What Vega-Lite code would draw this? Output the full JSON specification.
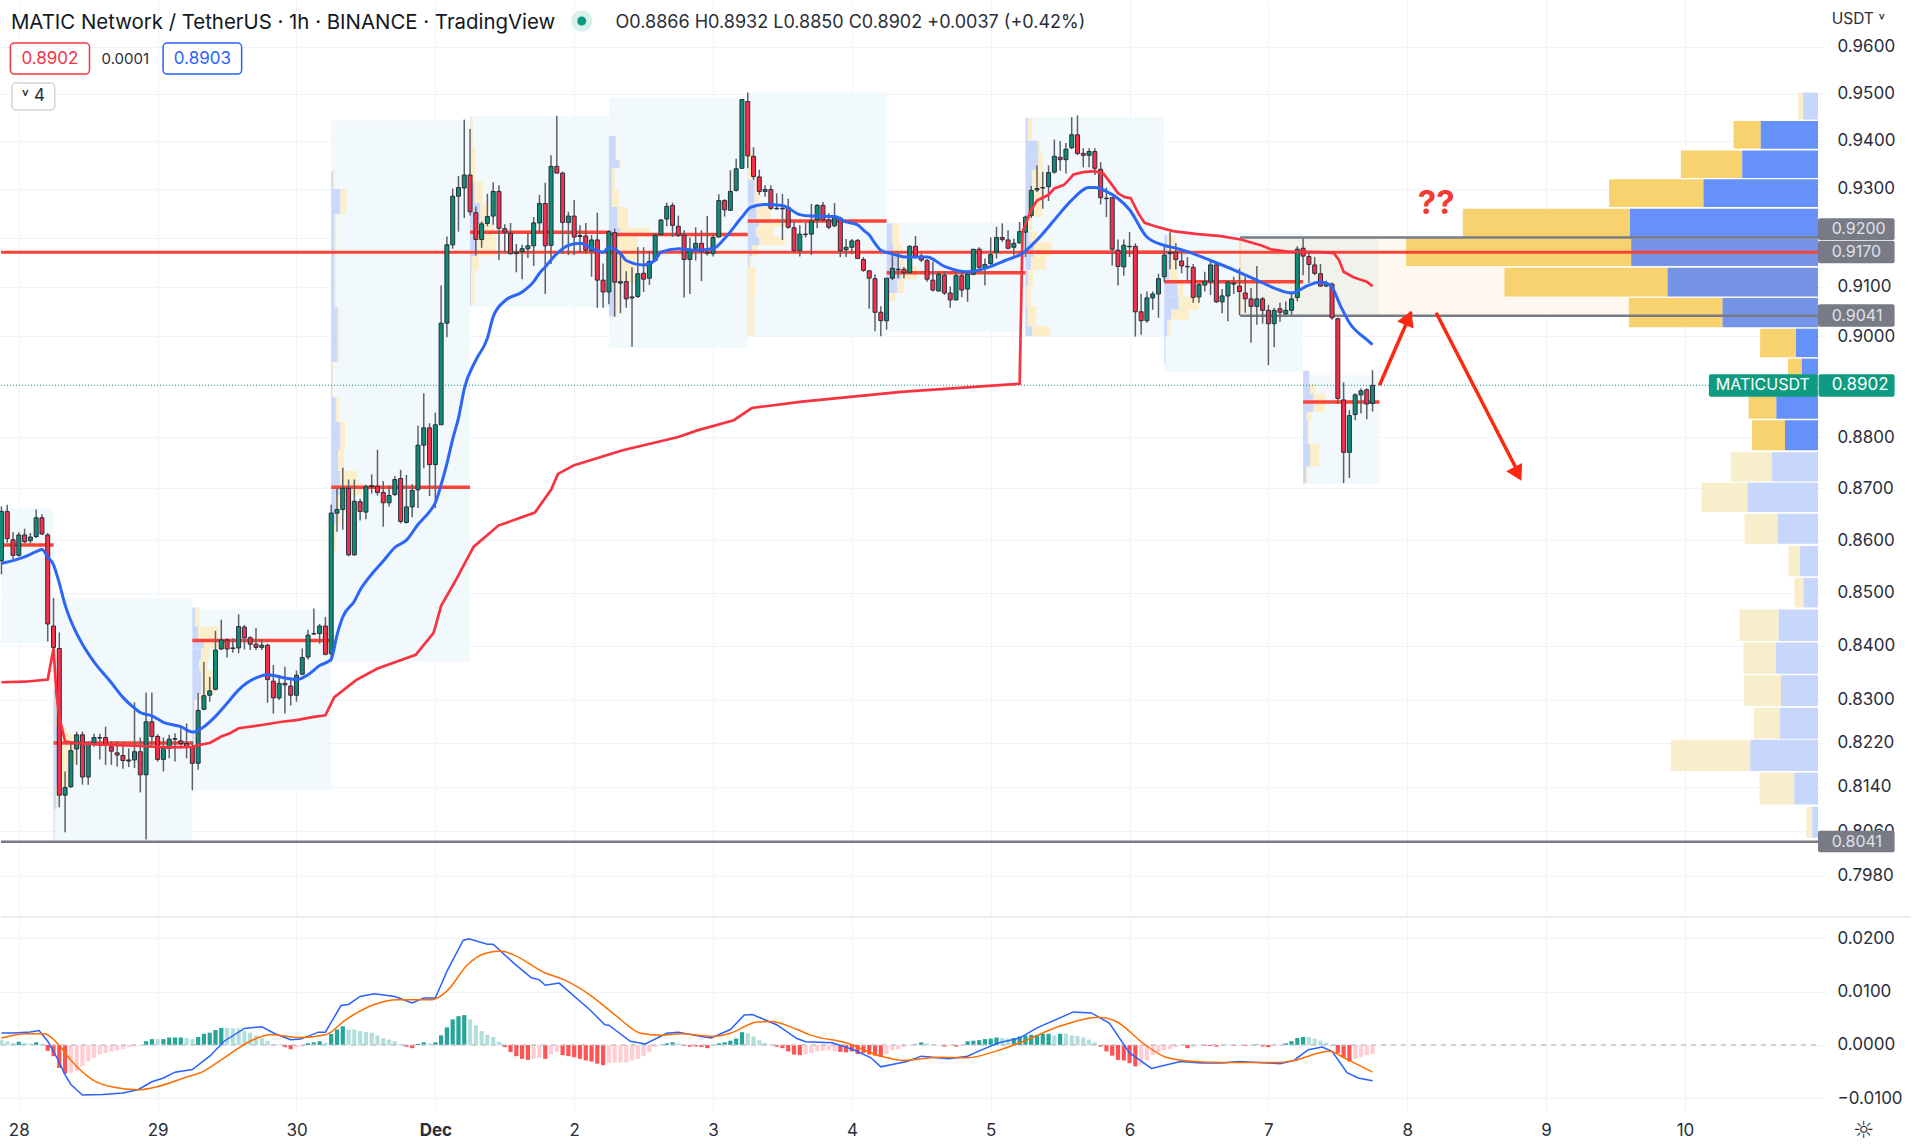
{"$schema":"https://vega.github.io/schema/vega-lite/v6.json","padding":{"left":-4,"top":0,"right":0,"bottom":0},"background":"white","autosize":{"type":"pad"},"spacing":2,
"resolve":{"scale":{"color":"independent","fill":"independent"}},
"config":{"view":{"stroke":null},"text":{"font":"Inter"},"axis":{"labelFont":"Inter","labelFontSize":17,"labelColor":"#2a2e39","gridColor":"#f0f3fa","gridWidth":1,"domain":false,"ticks":false,"labelOverlap":false,"labelBound":false,"labelFlush":false}},
"datasets":{
"candles":[{"t":-3,"o":0.8561,"h":0.8665,"l":0.8535,"c":0.8655},{"t":-2,"o":0.8655,"h":0.8668,"l":0.8595,"c":0.8603},{"t":-1,"o":0.8601,"h":0.8615,"l":0.8564,"c":0.8571},{"t":0,"o":0.8571,"h":0.8615,"l":0.8569,"c":0.861},{"t":1,"o":0.861,"h":0.8622,"l":0.8594,"c":0.8597},{"t":2,"o":0.8599,"h":0.8614,"l":0.8594,"c":0.8606},{"t":3,"o":0.8607,"h":0.8659,"l":0.8604,"c":0.8643},{"t":4,"o":0.8643,"h":0.865,"l":0.861,"c":0.8612},{"t":5,"o":0.861,"h":0.8614,"l":0.8408,"c":0.8441},{"t":6,"o":0.8437,"h":0.849,"l":0.8392,"c":0.8397},{"t":7,"o":0.8395,"h":0.8425,"l":0.8103,"c":0.8125},{"t":8,"o":0.8125,"h":0.8168,"l":0.8058,"c":0.8139},{"t":9,"o":0.814,"h":0.8223,"l":0.8139,"c":0.8206},{"t":10,"o":0.8209,"h":0.8241,"l":0.818,"c":0.8235},{"t":11,"o":0.8235,"h":0.8241,"l":0.8144,"c":0.8158},{"t":12,"o":0.8158,"h":0.8223,"l":0.8144,"c":0.8218},{"t":13,"o":0.822,"h":0.8237,"l":0.8213,"c":0.823},{"t":14,"o":0.8229,"h":0.8237,"l":0.819,"c":0.823},{"t":15,"o":0.823,"h":0.825,"l":0.818,"c":0.8218},{"t":16,"o":0.8213,"h":0.8223,"l":0.818,"c":0.8205},{"t":17,"o":0.8202,"h":0.8223,"l":0.8177,"c":0.8198},{"t":18,"o":0.8197,"h":0.8221,"l":0.8173,"c":0.8188},{"t":19,"o":0.8187,"h":0.821,"l":0.8176,"c":0.8189},{"t":20,"o":0.8189,"h":0.8295,"l":0.8174,"c":0.8204},{"t":21,"o":0.8204,"h":0.823,"l":0.813,"c":0.8162},{"t":22,"o":0.8162,"h":0.8313,"l":0.8045,"c":0.8259},{"t":23,"o":0.8259,"h":0.8313,"l":0.8216,"c":0.8232},{"t":24,"o":0.8232,"h":0.8236,"l":0.8186,"c":0.819},{"t":25,"o":0.819,"h":0.823,"l":0.8168,"c":0.821},{"t":26,"o":0.821,"h":0.8235,"l":0.8192,"c":0.8227},{"t":27,"o":0.8227,"h":0.8238,"l":0.8186,"c":0.8228},{"t":28,"o":0.8224,"h":0.8247,"l":0.821,"c":0.8219},{"t":29,"o":0.8219,"h":0.8256,"l":0.8192,"c":0.8213},{"t":30,"o":0.8212,"h":0.8223,"l":0.8134,"c":0.8183},{"t":31,"o":0.8183,"h":0.8312,"l":0.8171,"c":0.828},{"t":32,"o":0.8282,"h":0.837,"l":0.828,"c":0.8307},{"t":33,"o":0.8308,"h":0.8342,"l":0.8296,"c":0.8316},{"t":34,"o":0.8319,"h":0.8428,"l":0.8317,"c":0.8392},{"t":35,"o":0.8394,"h":0.8449,"l":0.8392,"c":0.8411},{"t":36,"o":0.8411,"h":0.8414,"l":0.8378,"c":0.8394},{"t":37,"o":0.8395,"h":0.8414,"l":0.8387,"c":0.8396},{"t":38,"o":0.8396,"h":0.8459,"l":0.8386,"c":0.8436},{"t":39,"o":0.8435,"h":0.8439,"l":0.8393,"c":0.8415},{"t":40,"o":0.8415,"h":0.8418,"l":0.8392,"c":0.8403},{"t":41,"o":0.8403,"h":0.8433,"l":0.8392,"c":0.8397},{"t":42,"o":0.8397,"h":0.8412,"l":0.8392,"c":0.8401},{"t":43,"o":0.8401,"h":0.8404,"l":0.8294,"c":0.8337},{"t":44,"o":0.8334,"h":0.8364,"l":0.8274,"c":0.8303},{"t":45,"o":0.8303,"h":0.8345,"l":0.8299,"c":0.833},{"t":46,"o":0.833,"h":0.8361,"l":0.8274,"c":0.8327},{"t":47,"o":0.8325,"h":0.8336,"l":0.8289,"c":0.8308},{"t":48,"o":0.8308,"h":0.8354,"l":0.8296,"c":0.8345},{"t":49,"o":0.8347,"h":0.8395,"l":0.8345,"c":0.8378},{"t":50,"o":0.8379,"h":0.843,"l":0.8374,"c":0.842},{"t":51,"o":0.8422,"h":0.847,"l":0.842,"c":0.8423},{"t":52,"o":0.8423,"h":0.8441,"l":0.8404,"c":0.8437},{"t":53,"o":0.8437,"h":0.8454,"l":0.8382,"c":0.8384},{"t":54,"o":0.8385,"h":0.8668,"l":0.837,"c":0.8652},{"t":55,"o":0.8652,"h":0.87,"l":0.8616,"c":0.8659},{"t":56,"o":0.8659,"h":0.874,"l":0.862,"c":0.87},{"t":57,"o":0.87,"h":0.8717,"l":0.8569,"c":0.8572},{"t":58,"o":0.8572,"h":0.8717,"l":0.857,"c":0.8675},{"t":59,"o":0.8674,"h":0.868,"l":0.8638,"c":0.8655},{"t":60,"o":0.8654,"h":0.8707,"l":0.864,"c":0.8703},{"t":61,"o":0.8703,"h":0.8727,"l":0.869,"c":0.8705},{"t":62,"o":0.8704,"h":0.8775,"l":0.8686,"c":0.8692},{"t":63,"o":0.8692,"h":0.8714,"l":0.8626,"c":0.8672},{"t":64,"o":0.8672,"h":0.8705,"l":0.8665,"c":0.8686},{"t":65,"o":0.8688,"h":0.8724,"l":0.8685,"c":0.8717},{"t":66,"o":0.8719,"h":0.8736,"l":0.8632,"c":0.8636},{"t":67,"o":0.8634,"h":0.8726,"l":0.8632,"c":0.8664},{"t":68,"o":0.8664,"h":0.8708,"l":0.8644,"c":0.8696},{"t":69,"o":0.8697,"h":0.8822,"l":0.8662,"c":0.8784},{"t":70,"o":0.8784,"h":0.8886,"l":0.8739,"c":0.8818},{"t":71,"o":0.8818,"h":0.8827,"l":0.8685,"c":0.8746},{"t":72,"o":0.8746,"h":0.8848,"l":0.8662,"c":0.8824},{"t":73,"o":0.8824,"h":0.9102,"l":0.8824,"c":0.9026},{"t":74,"o":0.9026,"h":0.9202,"l":0.8998,"c":0.9185},{"t":75,"o":0.9185,"h":0.9301,"l":0.9177,"c":0.9285},{"t":76,"o":0.9285,"h":0.9327,"l":0.9212,"c":0.9303},{"t":77,"o":0.9302,"h":0.9445,"l":0.924,"c":0.9329},{"t":78,"o":0.9329,"h":0.9425,"l":0.9245,"c":0.9253},{"t":79,"o":0.9251,"h":0.9264,"l":0.9163,"c":0.9196},{"t":80,"o":0.9196,"h":0.9233,"l":0.9179,"c":0.9228},{"t":81,"o":0.9229,"h":0.929,"l":0.9223,"c":0.9243},{"t":82,"o":0.9244,"h":0.9314,"l":0.9226,"c":0.9295},{"t":83,"o":0.9295,"h":0.9308,"l":0.9154,"c":0.9219},{"t":84,"o":0.9218,"h":0.9227,"l":0.9169,"c":0.9211},{"t":85,"o":0.9209,"h":0.923,"l":0.9165,"c":0.9167},{"t":86,"o":0.9167,"h":0.9187,"l":0.9129,"c":0.917},{"t":87,"o":0.9171,"h":0.9185,"l":0.9115,"c":0.9177},{"t":88,"o":0.9177,"h":0.9209,"l":0.9158,"c":0.9183},{"t":89,"o":0.9183,"h":0.9242,"l":0.9142,"c":0.923},{"t":90,"o":0.923,"h":0.9288,"l":0.9209,"c":0.927},{"t":91,"o":0.927,"h":0.9313,"l":0.9085,"c":0.9183},{"t":92,"o":0.9184,"h":0.937,"l":0.9146,"c":0.9347},{"t":93,"o":0.9347,"h":0.9453,"l":0.9333,"c":0.9333},{"t":94,"o":0.9333,"h":0.9336,"l":0.9167,"c":0.9231},{"t":95,"o":0.9231,"h":0.9253,"l":0.9164,"c":0.9244},{"t":96,"o":0.9244,"h":0.9277,"l":0.9164,"c":0.9201},{"t":97,"o":0.9202,"h":0.9225,"l":0.9169,"c":0.9204},{"t":98,"o":0.9203,"h":0.923,"l":0.9167,"c":0.9174},{"t":99,"o":0.9173,"h":0.9205,"l":0.912,"c":0.9195},{"t":100,"o":0.9195,"h":0.9251,"l":0.9057,"c":0.9113},{"t":101,"o":0.9113,"h":0.9147,"l":0.9057,"c":0.9089},{"t":102,"o":0.9089,"h":0.9215,"l":0.9064,"c":0.9212},{"t":103,"o":0.921,"h":0.9218,"l":0.9039,"c":0.9109},{"t":104,"o":0.9107,"h":0.9169,"l":0.9046,"c":0.911},{"t":105,"o":0.911,"h":0.9131,"l":0.9057,"c":0.9075},{"t":106,"o":0.9079,"h":0.9139,"l":0.8979,"c":0.9077},{"t":107,"o":0.908,"h":0.918,"l":0.9077,"c":0.9126},{"t":108,"o":0.9127,"h":0.918,"l":0.9089,"c":0.9115},{"t":109,"o":0.9117,"h":0.9173,"l":0.9103,"c":0.9151},{"t":110,"o":0.9153,"h":0.9208,"l":0.9151,"c":0.9205},{"t":111,"o":0.9206,"h":0.9238,"l":0.9205,"c":0.9236},{"t":112,"o":0.9238,"h":0.9272,"l":0.9223,"c":0.9264},{"t":113,"o":0.9266,"h":0.9272,"l":0.9201,"c":0.9225},{"t":114,"o":0.9223,"h":0.9245,"l":0.9201,"c":0.9205},{"t":115,"o":0.9205,"h":0.9215,"l":0.9078,"c":0.9155},{"t":116,"o":0.9155,"h":0.92,"l":0.9085,"c":0.9175},{"t":117,"o":0.9178,"h":0.9221,"l":0.9153,"c":0.9188},{"t":118,"o":0.9188,"h":0.9215,"l":0.9111,"c":0.9171},{"t":119,"o":0.917,"h":0.9244,"l":0.9163,"c":0.9168},{"t":120,"o":0.9167,"h":0.9208,"l":0.9161,"c":0.92},{"t":121,"o":0.9201,"h":0.9289,"l":0.92,"c":0.9276},{"t":122,"o":0.9276,"h":0.9279,"l":0.9243,"c":0.9257},{"t":123,"o":0.9256,"h":0.9339,"l":0.9255,"c":0.9295},{"t":124,"o":0.9297,"h":0.9363,"l":0.9295,"c":0.9342},{"t":125,"o":0.9343,"h":0.9488,"l":0.9343,"c":0.9487},{"t":126,"o":0.9483,"h":0.9502,"l":0.9343,"c":0.9369},{"t":127,"o":0.9368,"h":0.9387,"l":0.9319,"c":0.9326},{"t":128,"o":0.9325,"h":0.934,"l":0.9288,"c":0.9295},{"t":129,"o":0.9295,"h":0.9308,"l":0.9284,"c":0.9299},{"t":130,"o":0.9299,"h":0.9308,"l":0.9257,"c":0.926},{"t":131,"o":0.926,"h":0.9291,"l":0.9257,"c":0.9259},{"t":132,"o":0.926,"h":0.929,"l":0.9195,"c":0.9259},{"t":133,"o":0.9262,"h":0.928,"l":0.9218,"c":0.9221},{"t":134,"o":0.922,"h":0.9233,"l":0.9172,"c":0.9173},{"t":135,"o":0.9173,"h":0.9225,"l":0.9161,"c":0.9207},{"t":136,"o":0.9206,"h":0.923,"l":0.92,"c":0.9207},{"t":137,"o":0.9207,"h":0.9269,"l":0.9164,"c":0.9234},{"t":138,"o":0.9236,"h":0.9269,"l":0.9219,"c":0.9266},{"t":139,"o":0.9266,"h":0.9273,"l":0.9233,"c":0.9236},{"t":140,"o":0.9236,"h":0.925,"l":0.9217,"c":0.9221},{"t":141,"o":0.9224,"h":0.9271,"l":0.9221,"c":0.9242},{"t":142,"o":0.924,"h":0.9243,"l":0.916,"c":0.9173},{"t":143,"o":0.9175,"h":0.9197,"l":0.916,"c":0.918},{"t":144,"o":0.918,"h":0.9197,"l":0.9166,"c":0.9193},{"t":145,"o":0.9194,"h":0.9197,"l":0.9157,"c":0.9157},{"t":146,"o":0.9155,"h":0.916,"l":0.913,"c":0.9133},{"t":147,"o":0.9132,"h":0.9133,"l":0.9055,"c":0.9117},{"t":148,"o":0.9116,"h":0.9125,"l":0.901,"c":0.9048},{"t":149,"o":0.9048,"h":0.906,"l":0.9,"c":0.9031},{"t":150,"o":0.9031,"h":0.9117,"l":0.9013,"c":0.9117},{"t":151,"o":0.9117,"h":0.917,"l":0.9113,"c":0.9137},{"t":152,"o":0.9134,"h":0.917,"l":0.9117,"c":0.9135},{"t":153,"o":0.9135,"h":0.914,"l":0.9117,"c":0.9128},{"t":154,"o":0.9128,"h":0.9184,"l":0.9127,"c":0.9182},{"t":155,"o":0.9182,"h":0.9203,"l":0.9157,"c":0.9162},{"t":156,"o":0.9162,"h":0.9167,"l":0.915,"c":0.9154},{"t":157,"o":0.9153,"h":0.9156,"l":0.911,"c":0.9115},{"t":158,"o":0.9113,"h":0.9151,"l":0.909,"c":0.9093},{"t":159,"o":0.9091,"h":0.913,"l":0.909,"c":0.9125},{"t":160,"o":0.9123,"h":0.9131,"l":0.9083,"c":0.9087},{"t":161,"o":0.9087,"h":0.91,"l":0.9057,"c":0.9073},{"t":162,"o":0.9073,"h":0.913,"l":0.9072,"c":0.9122},{"t":163,"o":0.9122,"h":0.9133,"l":0.9079,"c":0.9093},{"t":164,"o":0.9095,"h":0.913,"l":0.9069,"c":0.9125},{"t":165,"o":0.9125,"h":0.9176,"l":0.9123,"c":0.9176},{"t":166,"o":0.9176,"h":0.918,"l":0.9127,"c":0.9139},{"t":167,"o":0.9139,"h":0.9157,"l":0.9102,"c":0.9145},{"t":168,"o":0.9147,"h":0.92,"l":0.9143,"c":0.9165},{"t":169,"o":0.917,"h":0.9222,"l":0.9157,"c":0.92},{"t":170,"o":0.92,"h":0.9229,"l":0.9191,"c":0.9196},{"t":171,"o":0.9195,"h":0.9215,"l":0.9176,"c":0.9178},{"t":172,"o":0.918,"h":0.9198,"l":0.9163,"c":0.9188},{"t":173,"o":0.9189,"h":0.9232,"l":0.9188,"c":0.9212},{"t":174,"o":0.9211,"h":0.9245,"l":0.916,"c":0.9242},{"t":175,"o":0.9245,"h":0.9306,"l":0.924,"c":0.9297},{"t":176,"o":0.9298,"h":0.9349,"l":0.9294,"c":0.9301},{"t":177,"o":0.9302,"h":0.9336,"l":0.9259,"c":0.9303},{"t":178,"o":0.9305,"h":0.9349,"l":0.9275,"c":0.9334},{"t":179,"o":0.9335,"h":0.9403,"l":0.9332,"c":0.9368},{"t":180,"o":0.9366,"h":0.94,"l":0.9338,"c":0.9361},{"t":181,"o":0.9361,"h":0.9396,"l":0.9332,"c":0.9383},{"t":182,"o":0.9386,"h":0.945,"l":0.9383,"c":0.9413},{"t":183,"o":0.9413,"h":0.9454,"l":0.937,"c":0.9374},{"t":184,"o":0.9374,"h":0.9385,"l":0.9345,"c":0.937},{"t":185,"o":0.937,"h":0.9385,"l":0.9345,"c":0.9378},{"t":186,"o":0.9378,"h":0.9385,"l":0.9329,"c":0.9343},{"t":187,"o":0.9341,"h":0.9356,"l":0.9268,"c":0.9282},{"t":188,"o":0.9281,"h":0.9303,"l":0.9242,"c":0.928},{"t":189,"o":0.9282,"h":0.9282,"l":0.9143,"c":0.9176},{"t":190,"o":0.9174,"h":0.9196,"l":0.9102,"c":0.9141},{"t":191,"o":0.914,"h":0.9196,"l":0.9122,"c":0.9184},{"t":192,"o":0.9182,"h":0.9211,"l":0.916,"c":0.9181},{"t":193,"o":0.9182,"h":0.9188,"l":0.8999,"c":0.9049},{"t":194,"o":0.9049,"h":0.9085,"l":0.9003,"c":0.9031},{"t":195,"o":0.9031,"h":0.909,"l":0.9027,"c":0.9077},{"t":196,"o":0.9077,"h":0.909,"l":0.9053,"c":0.9085},{"t":197,"o":0.9085,"h":0.9126,"l":0.9037,"c":0.9116},{"t":198,"o":0.912,"h":0.9184,"l":0.9109,"c":0.9164},{"t":199,"o":0.9167,"h":0.9212,"l":0.9135,"c":0.917},{"t":200,"o":0.917,"h":0.9188,"l":0.9135,"c":0.9155},{"t":201,"o":0.9152,"h":0.9175,"l":0.9127,"c":0.9142},{"t":202,"o":0.9141,"h":0.916,"l":0.9112,"c":0.914},{"t":203,"o":0.9139,"h":0.9146,"l":0.9067,"c":0.9078},{"t":204,"o":0.9079,"h":0.9107,"l":0.9067,"c":0.9104},{"t":205,"o":0.9103,"h":0.913,"l":0.909,"c":0.911},{"t":206,"o":0.911,"h":0.9154,"l":0.9083,"c":0.9144},{"t":207,"o":0.9144,"h":0.9147,"l":0.9067,"c":0.9069},{"t":208,"o":0.9069,"h":0.9095,"l":0.9046,"c":0.9081},{"t":209,"o":0.9081,"h":0.9112,"l":0.903,"c":0.9109},{"t":210,"o":0.9105,"h":0.912,"l":0.9085,"c":0.9107},{"t":211,"o":0.9101,"h":0.9137,"l":0.9042,"c":0.909},{"t":212,"o":0.9087,"h":0.912,"l":0.9047,"c":0.9075},{"t":213,"o":0.9075,"h":0.9097,"l":0.8987,"c":0.906},{"t":214,"o":0.906,"h":0.9142,"l":0.9023,"c":0.9075},{"t":215,"o":0.9075,"h":0.9079,"l":0.9025,"c":0.9052},{"t":216,"o":0.9052,"h":0.9063,"l":0.8942,"c":0.9025},{"t":217,"o":0.9025,"h":0.9057,"l":0.8978,"c":0.9052},{"t":218,"o":0.9055,"h":0.9067,"l":0.9029,"c":0.9048},{"t":219,"o":0.9045,"h":0.907,"l":0.9043,"c":0.9052},{"t":220,"o":0.9052,"h":0.909,"l":0.9043,"c":0.9075},{"t":221,"o":0.9078,"h":0.9182,"l":0.907,"c":0.9176},{"t":222,"o":0.9178,"h":0.9198,"l":0.9123,"c":0.9162},{"t":223,"o":0.9161,"h":0.9171,"l":0.9107,"c":0.9145},{"t":224,"o":0.9144,"h":0.916,"l":0.9123,"c":0.9127},{"t":225,"o":0.9126,"h":0.9146,"l":0.91,"c":0.9101},{"t":226,"o":0.9101,"h":0.9112,"l":0.9099,"c":0.9107},{"t":227,"o":0.9105,"h":0.9108,"l":0.9033,"c":0.9037},{"t":228,"o":0.9035,"h":0.9037,"l":0.8865,"c":0.8876},{"t":229,"o":0.8873,"h":0.8908,"l":0.871,"c":0.877},{"t":230,"o":0.877,"h":0.8853,"l":0.872,"c":0.8842},{"t":231,"o":0.8844,"h":0.8886,"l":0.8833,"c":0.8883},{"t":232,"o":0.8883,"h":0.8896,"l":0.8846,"c":0.8891},{"t":233,"o":0.8893,"h":0.8896,"l":0.8835,"c":0.8865},{"t":234,"o":0.8866,"h":0.8932,"l":0.885,"c":0.8902}],
"ema":[{"hour":-3,"price":0.8556},{"hour":-1,"price":0.8561},{"hour":1,"price":0.8568},{"hour":3,"price":0.8578},{"hour":4,"price":0.8582},{"hour":5,"price":0.8568},{"hour":6,"price":0.8553},{"hour":7,"price":0.8518},{"hour":8,"price":0.8477},{"hour":10,"price":0.8423},{"hour":11,"price":0.8403},{"hour":13,"price":0.837},{"hour":16,"price":0.8331},{"hour":18,"price":0.8304},{"hour":20,"price":0.8284},{"hour":21,"price":0.8276},{"hour":23,"price":0.827},{"hour":25,"price":0.8258},{"hour":28,"price":0.825},{"hour":30,"price":0.824},{"hour":32,"price":0.825},{"hour":34,"price":0.8269},{"hour":36,"price":0.8293},{"hour":38,"price":0.8318},{"hour":41,"price":0.834},{"hour":43,"price":0.8346},{"hour":46,"price":0.834},{"hour":48,"price":0.8337},{"hour":50,"price":0.8346},{"hour":52,"price":0.8363},{"hour":54,"price":0.8375},{"hour":55,"price":0.842},{"hour":56,"price":0.8454},{"hour":58,"price":0.8484},{"hour":59,"price":0.8505},{"hour":61,"price":0.8535},{"hour":63,"price":0.856},{"hour":65,"price":0.8586},{"hour":67,"price":0.86},{"hour":69,"price":0.863},{"hour":71,"price":0.8655},{"hour":72,"price":0.8672},{"hour":73,"price":0.8707},{"hour":74,"price":0.8748},{"hour":75,"price":0.8796},{"hour":76,"price":0.8837},{"hour":77,"price":0.8895},{"hour":79,"price":0.8952},{"hour":81,"price":0.8996},{"hour":82,"price":0.9039},{"hour":84,"price":0.9071},{"hour":87,"price":0.9089},{"hour":89,"price":0.911},{"hour":90,"price":0.9127},{"hour":91,"price":0.914},{"hour":93,"price":0.9167},{"hour":95,"price":0.9184},{"hour":97,"price":0.9188},{"hour":99.5,"price":0.9175},{"hour":101,"price":0.917},{"hour":102,"price":0.918},{"hour":104,"price":0.9167},{"hour":105,"price":0.9153},{"hour":108,"price":0.9144},{"hour":110,"price":0.9154},{"hour":111,"price":0.917},{"hour":114,"price":0.9177},{"hour":117,"price":0.9174},{"hour":120,"price":0.9177},{"hour":122,"price":0.9198},{"hour":125,"price":0.9242},{"hour":126.5,"price":0.9262},{"hour":129,"price":0.9268},{"hour":132,"price":0.9266},{"hour":135,"price":0.9247},{"hour":137,"price":0.9244},{"hour":141,"price":0.9243},{"hour":143,"price":0.9232},{"hour":145,"price":0.9226},{"hour":146,"price":0.9215},{"hour":147,"price":0.9205},{"hour":148,"price":0.9188},{"hour":149,"price":0.9174},{"hour":150.5,"price":0.9168},{"hour":153.5,"price":0.916},{"hour":157,"price":0.916},{"hour":160,"price":0.9141},{"hour":164,"price":0.913},{"hour":168,"price":0.9141},{"hour":170.5,"price":0.9153},{"hour":173.5,"price":0.9168},{"hour":176,"price":0.9195},{"hour":179,"price":0.9236},{"hour":182,"price":0.9277},{"hour":185,"price":0.9303},{"hour":186,"price":0.9303},{"hour":188,"price":0.9295},{"hour":192,"price":0.9257},{"hour":195,"price":0.9201},{"hour":198,"price":0.9184},{"hour":200,"price":0.9178},{"hour":202,"price":0.9171},{"hour":206,"price":0.9153},{"hour":210,"price":0.9134},{"hour":214,"price":0.9113},{"hour":217,"price":0.9097},{"hour":220,"price":0.9087},{"hour":223,"price":0.9103},{"hour":225,"price":0.9109},{"hour":226.7,"price":0.9103},{"hour":228.5,"price":0.906},{"hour":230,"price":0.9027},{"hour":233,"price":0.8993},{"hour":234,"price":0.8983}],
"vwap":[{"hour":-3,"price":0.8332},{"hour":1,"price":0.8333},{"hour":5,"price":0.8337},{"hour":6,"price":0.8395},{"hour":6.5,"price":0.8311},{"hour":7,"price":0.8268},{"hour":8,"price":0.8223},{"hour":9.5,"price":0.822},{"hour":14,"price":0.8217},{"hour":20,"price":0.8215},{"hour":25.5,"price":0.8212},{"hour":30,"price":0.8213},{"hour":31,"price":0.8216},{"hour":33,"price":0.822},{"hour":35,"price":0.8232},{"hour":36.5,"price":0.8238},{"hour":38,"price":0.8247},{"hour":42,"price":0.8253},{"hour":45.5,"price":0.8259},{"hour":48,"price":0.8262},{"hour":51,"price":0.8268},{"hour":53,"price":0.8271},{"hour":54.5,"price":0.8304},{"hour":58.3,"price":0.8336},{"hour":61.9,"price":0.8357},{"hour":68.6,"price":0.8383},{"hour":71.7,"price":0.8424},{"hour":73,"price":0.8475},{"hour":75.5,"price":0.8523},{"hour":78.6,"price":0.8587},{"hour":82.9,"price":0.8628},{"hour":89.2,"price":0.8653},{"hour":92,"price":0.8697},{"hour":93.2,"price":0.8728},{"hour":96,"price":0.8745},{"hour":104.4,"price":0.8774},{"hour":114,"price":0.88},{"hour":117.3,"price":0.8813},{"hour":123.6,"price":0.8833},{"hour":126.7,"price":0.8857},{"hour":135,"price":0.8869},{"hour":152.5,"price":0.8889},{"hour":173,"price":0.8905},{"hour":173.5,"price":0.9212},{"hour":175,"price":0.9257},{"hour":176,"price":0.9276},{"hour":178,"price":0.9288},{"hour":179,"price":0.9301},{"hour":180.6,"price":0.9308},{"hour":181.5,"price":0.9319},{"hour":182.3,"price":0.933},{"hour":184,"price":0.9335},{"hour":186,"price":0.9337},{"hour":187.5,"price":0.9332},{"hour":189,"price":0.9308},{"hour":190,"price":0.9291},{"hour":191.2,"price":0.9283},{"hour":192.2,"price":0.9281},{"hour":193.5,"price":0.925},{"hour":194.6,"price":0.923},{"hour":196.4,"price":0.9223},{"hour":199.5,"price":0.9213},{"hour":203.8,"price":0.9207},{"hour":207.8,"price":0.9203},{"hour":211.2,"price":0.9196},{"hour":214.7,"price":0.9184},{"hour":216.4,"price":0.9176},{"hour":219.3,"price":0.9171},{"hour":225,"price":0.917},{"hour":227.3,"price":0.9168},{"hour":228.2,"price":0.9154},{"hour":229,"price":0.913},{"hour":230.7,"price":0.9119},{"hour":233,"price":0.911},{"hour":234,"price":0.9101}],
"macd":[{"hour":-3,"value":0.00225},{"hour":-1,"value":0.00225},{"hour":2,"value":0.00244},{"hour":3.5,"value":0.0027},{"hour":5,"value":0.0007},{"hour":6.6,"value":-0.0024},{"hour":8,"value":-0.0056},{"hour":9,"value":-0.0074},{"hour":11,"value":-0.0094},{"hour":14.5,"value":-0.0093},{"hour":18,"value":-0.009},{"hour":20.6,"value":-0.0084},{"hour":23,"value":-0.0069},{"hour":25,"value":-0.0062},{"hour":27,"value":-0.0051},{"hour":30,"value":-0.0046},{"hour":33,"value":-0.0021},{"hour":35.5,"value":0.0007},{"hour":39,"value":0.0031},{"hour":42,"value":0.0034},{"hour":44.3,"value":0.0021},{"hour":47,"value":0.001},{"hour":48.7,"value":0.0011},{"hour":51.8,"value":0.0024},{"hour":53,"value":0.0024},{"hour":55.7,"value":0.0074},{"hour":57,"value":0.0076},{"hour":59,"value":0.0091},{"hour":61.4,"value":0.0096},{"hour":65,"value":0.0091},{"hour":68,"value":0.0079},{"hour":70,"value":0.0088},{"hour":72,"value":0.0088},{"hour":74,"value":0.0138},{"hour":76.8,"value":0.0196},{"hour":77.8,"value":0.0199},{"hour":81,"value":0.0189},{"hour":82,"value":0.0189},{"hour":85.5,"value":0.0154},{"hour":88.6,"value":0.0126},{"hour":90,"value":0.0122},{"hour":91,"value":0.0112},{"hour":93.4,"value":0.0116},{"hour":98.7,"value":0.0066},{"hour":101.3,"value":0.0038},{"hour":102,"value":0.0037},{"hour":105.7,"value":0.0007},{"hour":108.3,"value":0.0002},{"hour":112,"value":0.0022},{"hour":114,"value":0.0024},{"hour":118,"value":0.0016},{"hour":119.7,"value":0.0013},{"hour":123,"value":0.0029},{"hour":125.4,"value":0.0056},{"hour":126.8,"value":0.0057},{"hour":131,"value":0.0038},{"hour":134.5,"value":0.0012},{"hour":136,"value":0.0006},{"hour":140.6,"value":0.0004},{"hour":144.3,"value":-0.0009},{"hour":147.3,"value":-0.0024},{"hour":149,"value":-0.0041},{"hour":153.5,"value":-0.0031},{"hour":156,"value":-0.0021},{"hour":160.8,"value":-0.0026},{"hour":164,"value":-0.0021},{"hour":165.8,"value":-0.0012},{"hour":169.4,"value":0.0004},{"hour":173,"value":0.0013},{"hour":176,"value":0.0032},{"hour":182.3,"value":0.0062},{"hour":185.4,"value":0.006},{"hour":188.5,"value":0.0041},{"hour":192,"value":-0.0015},{"hour":195.8,"value":-0.0044},{"hour":200.8,"value":-0.0031},{"hour":204.4,"value":-0.0034},{"hour":208,"value":-0.0034},{"hour":211,"value":-0.0031},{"hour":218,"value":-0.0035},{"hour":220.4,"value":-0.0029},{"hour":222.9,"value":-0.0009},{"hour":225.3,"value":-0.0004},{"hour":227,"value":-0.0012},{"hour":229.6,"value":-0.0052},{"hour":231.5,"value":-0.0062},{"hour":234,"value":-0.0067}],
"signal":[{"hour":-3,"value":0.0013},{"hour":1.3,"value":0.0021},{"hour":4.4,"value":0.0021},{"hour":6.6,"value":0.0004},{"hour":9.2,"value":-0.0031},{"hour":12.7,"value":-0.0065},{"hour":16.2,"value":-0.0079},{"hour":20.6,"value":-0.0084},{"hour":24,"value":-0.0078},{"hour":28.5,"value":-0.0062},{"hour":32,"value":-0.0049},{"hour":35.5,"value":-0.0024},{"hour":40,"value":0.0007},{"hour":43.4,"value":0.0019},{"hour":48.7,"value":0.0014},{"hour":53,"value":0.0019},{"hour":56.6,"value":0.0048},{"hour":61,"value":0.0074},{"hour":65.4,"value":0.0085},{"hour":71.5,"value":0.0085},{"hour":74,"value":0.0101},{"hour":77.6,"value":0.0151},{"hour":81,"value":0.0173},{"hour":83.3,"value":0.0176},{"hour":85.5,"value":0.0169},{"hour":91,"value":0.0135},{"hour":94.3,"value":0.0122},{"hour":98.7,"value":0.0094},{"hour":103,"value":0.0057},{"hour":107.5,"value":0.0022},{"hour":111,"value":0.0018},{"hour":114.5,"value":0.0021},{"hour":119.7,"value":0.0016},{"hour":123,"value":0.0022},{"hour":127.6,"value":0.0043},{"hour":130,"value":0.0044},{"hour":134.5,"value":0.0029},{"hour":137,"value":0.0018},{"hour":143,"value":0.0004},{"hour":149,"value":-0.0021},{"hour":152.9,"value":-0.0029},{"hour":159,"value":-0.0023},{"hour":164,"value":-0.0024},{"hour":168.8,"value":-0.0012},{"hour":173.7,"value":0.0007},{"hour":179.9,"value":0.0035},{"hour":186.6,"value":0.0052},{"hour":189.7,"value":0.0044},{"hour":194.6,"value":0.0001},{"hour":198.3,"value":-0.0023},{"hour":203.2,"value":-0.0031},{"hour":208,"value":-0.0033},{"hour":218,"value":-0.0033},{"hour":220.4,"value":-0.0029},{"hour":226.5,"value":-0.0012},{"hour":229.6,"value":-0.0027},{"hour":234,"value":-0.0051}],
"hist":[{"hour":-3,"value":0.001,"tone":"g"},{"hour":-2,"value":0.0007,"tone":"g"},{"hour":-1,"value":0.0004,"tone":"g"},{"hour":0,"value":0.0006,"tone":"G"},{"hour":1,"value":0.0004,"tone":"g"},{"hour":2,"value":0.0003,"tone":"g"},{"hour":3,"value":0.0005,"tone":"G"},{"hour":4,"value":0.0002,"tone":"g"},{"hour":5,"value":-0.0011,"tone":"R"},{"hour":6,"value":-0.0021,"tone":"R"},{"hour":7,"value":-0.0043,"tone":"R"},{"hour":8,"value":-0.0054,"tone":"R"},{"hour":9,"value":-0.0052,"tone":"r"},{"hour":10,"value":-0.0049,"tone":"r"},{"hour":11,"value":-0.004,"tone":"r"},{"hour":12,"value":-0.0031,"tone":"r"},{"hour":13,"value":-0.0024,"tone":"r"},{"hour":14,"value":-0.0018,"tone":"r"},{"hour":15,"value":-0.0015,"tone":"r"},{"hour":16,"value":-0.0012,"tone":"r"},{"hour":17,"value":-0.001,"tone":"r"},{"hour":18,"value":-0.0008,"tone":"r"},{"hour":19,"value":-0.0004,"tone":"r"},{"hour":20,"value":-0.0003,"tone":"r"},{"hour":21,"value":-0.0001,"tone":"r"},{"hour":22,"value":0.0007,"tone":"G"},{"hour":23,"value":0.0011,"tone":"G"},{"hour":24,"value":0.0011,"tone":"g"},{"hour":25,"value":0.0011,"tone":"G"},{"hour":26,"value":0.0014,"tone":"G"},{"hour":27,"value":0.0014,"tone":"G"},{"hour":28,"value":0.0014,"tone":"G"},{"hour":29,"value":0.0013,"tone":"g"},{"hour":30,"value":0.0011,"tone":"g"},{"hour":31,"value":0.0015,"tone":"G"},{"hour":32,"value":0.0021,"tone":"G"},{"hour":33,"value":0.0023,"tone":"G"},{"hour":34,"value":0.0028,"tone":"G"},{"hour":35,"value":0.0032,"tone":"G"},{"hour":36,"value":0.0032,"tone":"g"},{"hour":37,"value":0.0031,"tone":"g"},{"hour":38,"value":0.0031,"tone":"g"},{"hour":39,"value":0.0026,"tone":"g"},{"hour":40,"value":0.0023,"tone":"g"},{"hour":41,"value":0.0018,"tone":"g"},{"hour":42,"value":0.0013,"tone":"g"},{"hour":43,"value":0.0008,"tone":"g"},{"hour":44,"value":0.0002,"tone":"g"},{"hour":45,"value":0.0001,"tone":"g"},{"hour":46,"value":-0.0004,"tone":"R"},{"hour":47,"value":-0.0008,"tone":"R"},{"hour":48,"value":-0.0004,"tone":"r"},{"hour":49,"value":-0.0003,"tone":"r"},{"hour":50,"value":0.0003,"tone":"G"},{"hour":51,"value":0.0005,"tone":"G"},{"hour":52,"value":0.0007,"tone":"G"},{"hour":53,"value":0.0004,"tone":"g"},{"hour":54,"value":0.0021,"tone":"G"},{"hour":55,"value":0.0029,"tone":"G"},{"hour":56,"value":0.0035,"tone":"G"},{"hour":57,"value":0.0029,"tone":"g"},{"hour":58,"value":0.0029,"tone":"g"},{"hour":59,"value":0.0026,"tone":"g"},{"hour":60,"value":0.0024,"tone":"g"},{"hour":61,"value":0.0023,"tone":"g"},{"hour":62,"value":0.0018,"tone":"g"},{"hour":63,"value":0.0013,"tone":"g"},{"hour":64,"value":0.001,"tone":"g"},{"hour":65,"value":0.0007,"tone":"g"},{"hour":66,"value":0.0002,"tone":"g"},{"hour":67,"value":-0.0003,"tone":"R"},{"hour":68,"value":-0.0006,"tone":"R"},{"hour":69,"value":0.0002,"tone":"G"},{"hour":70,"value":0.0005,"tone":"G"},{"hour":71,"value":0.0003,"tone":"g"},{"hour":72,"value":0.0005,"tone":"G"},{"hour":73,"value":0.0018,"tone":"G"},{"hour":74,"value":0.0033,"tone":"G"},{"hour":75,"value":0.0048,"tone":"G"},{"hour":76,"value":0.0054,"tone":"G"},{"hour":77,"value":0.0056,"tone":"G"},{"hour":78,"value":0.0048,"tone":"g"},{"hour":79,"value":0.0037,"tone":"g"},{"hour":80,"value":0.0026,"tone":"g"},{"hour":81,"value":0.0019,"tone":"g"},{"hour":82,"value":0.0015,"tone":"g"},{"hour":83,"value":0.0006,"tone":"g"},{"hour":84,"value":-0.0004,"tone":"R"},{"hour":85,"value":-0.0013,"tone":"R"},{"hour":86,"value":-0.0021,"tone":"R"},{"hour":87,"value":-0.0026,"tone":"R"},{"hour":88,"value":-0.0028,"tone":"R"},{"hour":89,"value":-0.0026,"tone":"r"},{"hour":90,"value":-0.0024,"tone":"r"},{"hour":91,"value":-0.0026,"tone":"R"},{"hour":92,"value":-0.0017,"tone":"r"},{"hour":93,"value":-0.0013,"tone":"r"},{"hour":94,"value":-0.0019,"tone":"R"},{"hour":95,"value":-0.0021,"tone":"R"},{"hour":96,"value":-0.0023,"tone":"R"},{"hour":97,"value":-0.0026,"tone":"R"},{"hour":98,"value":-0.0029,"tone":"R"},{"hour":99,"value":-0.0031,"tone":"R"},{"hour":100,"value":-0.0035,"tone":"R"},{"hour":101,"value":-0.0038,"tone":"R"},{"hour":102,"value":-0.0034,"tone":"r"},{"hour":103,"value":-0.0033,"tone":"r"},{"hour":104,"value":-0.0033,"tone":"r"},{"hour":105,"value":-0.0033,"tone":"r"},{"hour":106,"value":-0.0029,"tone":"r"},{"hour":107,"value":-0.0026,"tone":"r"},{"hour":108,"value":-0.0021,"tone":"r"},{"hour":109,"value":-0.0013,"tone":"r"},{"hour":110,"value":-0.0004,"tone":"r"},{"hour":111,"value":0.0001,"tone":"g"},{"hour":112,"value":0.0003,"tone":"G"},{"hour":113,"value":0.0005,"tone":"G"},{"hour":114,"value":0.0003,"tone":"g"},{"hour":115,"value":-0.0002,"tone":"R"},{"hour":116,"value":-0.0003,"tone":"R"},{"hour":117,"value":-0.0003,"tone":"R"},{"hour":118,"value":-0.0004,"tone":"R"},{"hour":119,"value":-0.0006,"tone":"R"},{"hour":120,"value":-0.0001,"tone":"r"},{"hour":121,"value":0.0003,"tone":"G"},{"hour":122,"value":0.0005,"tone":"G"},{"hour":123,"value":0.0008,"tone":"G"},{"hour":124,"value":0.0012,"tone":"G"},{"hour":125,"value":0.0024,"tone":"G"},{"hour":126,"value":0.0022,"tone":"g"},{"hour":127,"value":0.0016,"tone":"g"},{"hour":128,"value":0.0009,"tone":"g"},{"hour":129,"value":0.0004,"tone":"g"},{"hour":130,"value":0.0001,"tone":"g"},{"hour":131,"value":-0.0003,"tone":"R"},{"hour":132,"value":-0.0006,"tone":"R"},{"hour":133,"value":-0.0012,"tone":"R"},{"hour":134,"value":-0.0018,"tone":"R"},{"hour":135,"value":-0.0019,"tone":"R"},{"hour":136,"value":-0.0018,"tone":"r"},{"hour":137,"value":-0.0015,"tone":"r"},{"hour":138,"value":-0.0012,"tone":"r"},{"hour":139,"value":-0.0011,"tone":"r"},{"hour":140,"value":-0.001,"tone":"r"},{"hour":141,"value":-0.0012,"tone":"r"},{"hour":142,"value":-0.0013,"tone":"R"},{"hour":143,"value":-0.0014,"tone":"R"},{"hour":144,"value":-0.0012,"tone":"R"},{"hour":145,"value":-0.0017,"tone":"R"},{"hour":146,"value":-0.0015,"tone":"R"},{"hour":147,"value":-0.0018,"tone":"R"},{"hour":148,"value":-0.002,"tone":"R"},{"hour":149,"value":-0.0022,"tone":"R"},{"hour":150,"value":-0.0017,"tone":"r"},{"hour":151,"value":-0.001,"tone":"r"},{"hour":152,"value":-0.0008,"tone":"r"},{"hour":153,"value":-0.0004,"tone":"r"},{"hour":154,"value":-0.0001,"tone":"r"},{"hour":155,"value":0.0003,"tone":"g"},{"hour":156,"value":0.0005,"tone":"G"},{"hour":157,"value":0.0003,"tone":"g"},{"hour":158,"value":0.0001,"tone":"g"},{"hour":159,"value":-0.0001,"tone":"r"},{"hour":160,"value":-0.0003,"tone":"R"},{"hour":161,"value":-0.0001,"tone":"r"},{"hour":162,"value":-0.0003,"tone":"R"},{"hour":163,"value":-0.0001,"tone":"r"},{"hour":164,"value":0.0007,"tone":"G"},{"hour":165,"value":0.0008,"tone":"G"},{"hour":166,"value":0.0009,"tone":"G"},{"hour":167,"value":0.0011,"tone":"G"},{"hour":168,"value":0.0012,"tone":"G"},{"hour":169,"value":0.0014,"tone":"G"},{"hour":170,"value":0.0013,"tone":"g"},{"hour":171,"value":0.0012,"tone":"g"},{"hour":172,"value":0.0013,"tone":"G"},{"hour":173,"value":0.0016,"tone":"G"},{"hour":174,"value":0.0018,"tone":"G"},{"hour":175,"value":0.0019,"tone":"G"},{"hour":176,"value":0.0019,"tone":"G"},{"hour":177,"value":0.0021,"tone":"G"},{"hour":178,"value":0.0021,"tone":"G"},{"hour":179,"value":0.0018,"tone":"g"},{"hour":180,"value":0.0021,"tone":"G"},{"hour":181,"value":0.0021,"tone":"g"},{"hour":182,"value":0.0018,"tone":"g"},{"hour":183,"value":0.0017,"tone":"g"},{"hour":184,"value":0.0014,"tone":"g"},{"hour":185,"value":0.001,"tone":"g"},{"hour":186,"value":0.0005,"tone":"g"},{"hour":187,"value":-0.0003,"tone":"R"},{"hour":188,"value":-0.0012,"tone":"R"},{"hour":189,"value":-0.002,"tone":"R"},{"hour":190,"value":-0.0028,"tone":"R"},{"hour":191,"value":-0.0029,"tone":"R"},{"hour":192,"value":-0.0034,"tone":"R"},{"hour":193,"value":-0.004,"tone":"R"},{"hour":194,"value":-0.0037,"tone":"r"},{"hour":195,"value":-0.0028,"tone":"r"},{"hour":196,"value":-0.0019,"tone":"r"},{"hour":197,"value":-0.0013,"tone":"r"},{"hour":198,"value":-0.001,"tone":"r"},{"hour":199,"value":-0.0008,"tone":"r"},{"hour":200,"value":-0.0004,"tone":"r"},{"hour":201,"value":-0.0001,"tone":"r"},{"hour":202,"value":-0.0006,"tone":"R"},{"hour":203,"value":-0.0004,"tone":"r"},{"hour":204,"value":-0.0001,"tone":"r"},{"hour":205,"value":-0.0002,"tone":"R"},{"hour":206,"value":-0.0002,"tone":"R"},{"hour":207,"value":-0.0003,"tone":"R"},{"hour":208,"value":-0.0002,"tone":"r"},{"hour":209,"value":0.0001,"tone":"g"},{"hour":210,"value":-0.0002,"tone":"R"},{"hour":211,"value":-0.0001,"tone":"r"},{"hour":212,"value":-0.0002,"tone":"R"},{"hour":213,"value":-0.0001,"tone":"r"},{"hour":214,"value":0.0001,"tone":"G"},{"hour":215,"value":-0.0003,"tone":"R"},{"hour":216,"value":-0.0004,"tone":"R"},{"hour":217,"value":-0.0001,"tone":"r"},{"hour":218,"value":0.0001,"tone":"g"},{"hour":219,"value":0.0003,"tone":"G"},{"hour":220,"value":0.0007,"tone":"G"},{"hour":221,"value":0.0013,"tone":"G"},{"hour":222,"value":0.0015,"tone":"G"},{"hour":223,"value":0.0015,"tone":"g"},{"hour":224,"value":0.0012,"tone":"g"},{"hour":225,"value":0.0008,"tone":"g"},{"hour":226,"value":0.0004,"tone":"g"},{"hour":227,"value":-0.0001,"tone":"R"},{"hour":228,"value":-0.0015,"tone":"R"},{"hour":229,"value":-0.0024,"tone":"R"},{"hour":230,"value":-0.0031,"tone":"R"},{"hour":231,"value":-0.0026,"tone":"r"},{"hour":232,"value":-0.0023,"tone":"r"},{"hour":233,"value":-0.0019,"tone":"r"},{"hour":234,"value":-0.0017,"tone":"r"}]
},
"vconcat":[
{"width":1827,"height":917,
"encoding":{"x":{"field":"hour","type":"quantitative","title":null,"scale":{"domain":[-3.077,311],"nice":false,"zero":false},"axis":{"values":[0,24,48,72,96,120,144,168,192,216,240,264,288],"labels":false,"grid":true}},"y":{"field":"price","type":"quantitative","title":null,"scale":{"type":"log","domain":[0.79074,0.97],"nice":false,"zero":false},"axis":{"orient":"right","values":[0.96,0.95,0.94,0.93,0.92,0.91,0.9,0.88,0.87,0.86,0.85,0.84,0.83,0.822,0.814,0.806,0.798],"labelExpr":"datum.value==0.92?'':format(datum.value,'.4f')","grid":true,"labelPadding":14}}},
"layer":[
{"data":{"values":[{"hour":-3.077,"hour2":6,"price":0.8661,"price2":0.8405},{"hour":6,"hour2":30,"price":0.849,"price2":0.8041},{"hour":30,"hour2":54,"price":0.8468,"price2":0.8134},{"hour":54,"hour2":78,"price":0.9443,"price2":0.837},{"hour":78,"hour2":102,"price":0.9452,"price2":0.9058},{"hour":102,"hour2":126,"price":0.9491,"price2":0.8977},{"hour":126,"hour2":150,"price":0.9502,"price2":0.9},{"hour":150,"hour2":174,"price":0.9231,"price2":0.9009},{"hour":174,"hour2":198,"price":0.945,"price2":0.9},{"hour":198,"hour2":222,"price":0.9209,"price2":0.8928},{"hour":222,"hour2":235.2,"price":0.8922,"price2":0.8709}]},"mark":{"type":"rect","color":"#f2f9fd"},"encoding":{"x2":{"field":"hour2"},"y2":{"field":"price2"}}},
{"data":{"values":[{"hour":211.1,"hour2":235.2,"price":0.92,"price2":0.9041}]},"mark":{"type":"rect","color":"#f2f2ec"},"encoding":{"x2":{"field":"hour2"},"y2":{"field":"price2"}}},
{"data":{"values":[{"hour":235.2,"hour2":311,"price":0.92,"price2":0.9041}]},"mark":{"type":"rect","color":"#fff8ee"},"encoding":{"x2":{"field":"hour2"},"y2":{"field":"price2"}}},
{"data":{"values":[{"hour":211.1,"price":0.92,"price2":0.9041}]},"mark":{"type":"rule","color":"#ffcc80","strokeWidth":1},"encoding":{"y2":{"field":"price2"}}},
{"data":{"name":"vp","values":[{"hour":307.57,"mid":308.43,"price":0.9502,"price2":0.9445,"zone":"out"},{"hour":296.4,"mid":301.1,"price":0.9442,"price2":0.9384,"zone":"in"},{"hour":287.3,"mid":297.9,"price":0.938,"price2":0.9323,"zone":"in"},{"hour":274.9,"mid":291.2,"price":0.932,"price2":0.9263,"zone":"in"},{"hour":249.6,"mid":278.5,"price":0.9259,"price2":0.9201,"zone":"in"},{"hour":239.8,"mid":278.7,"price":0.9198,"price2":0.9142,"zone":"box"},{"hour":256.8,"mid":285,"price":0.9138,"price2":0.908,"zone":"box"},{"hour":278.3,"mid":294.5,"price":0.9077,"price2":0.9018,"zone":"box"},{"hour":301,"mid":307.2,"price":0.9015,"price2":0.8958,"zone":"in"},{"hour":305.8,"mid":308.2,"price":0.8955,"price2":0.8897,"zone":"in"},{"hour":299,"mid":303.8,"price":0.8895,"price2":0.8836,"zone":"in"},{"hour":299.6,"mid":305.3,"price":0.8833,"price2":0.8774,"zone":"in"},{"hour":295.9,"mid":303,"price":0.877,"price2":0.8713,"zone":"out"},{"hour":290.9,"mid":298.8,"price":0.8711,"price2":0.8654,"zone":"out"},{"hour":298.3,"mid":304,"price":0.8651,"price2":0.8593,"zone":"out"},{"hour":305.9,"mid":307.9,"price":0.8589,"price2":0.8531,"zone":"out"},{"hour":306.9,"mid":308.5,"price":0.8528,"price2":0.8472,"zone":"out"},{"hour":297.4,"mid":304.2,"price":0.8468,"price2":0.8409,"zone":"out"},{"hour":298.1,"mid":303.7,"price":0.8406,"price2":0.8348,"zone":"out"},{"hour":298.2,"mid":304.6,"price":0.8345,"price2":0.8288,"zone":"out"},{"hour":299.9,"mid":304.4,"price":0.8285,"price2":0.8228,"zone":"out"},{"hour":285.6,"mid":299.3,"price":0.8226,"price2":0.8169,"zone":"out"},{"hour":300.9,"mid":306.9,"price":0.8166,"price2":0.8108,"zone":"out"},{"hour":309,"mid":310,"price":0.8104,"price2":0.8048,"zone":"out"}]},"mark":{"type":"rect"},"encoding":{"x2":{"field":"mid"},"y2":{"field":"price2"},"fill":{"field":"zone","type":"nominal","scale":{"domain":["in","box","out"],"range":["#f8d26f","#f8d26f","#f8eecb"]},"legend":null}}},
{"data":{"name":"vp"},"mark":{"type":"rect"},"encoding":{"x":{"field":"mid","type":"quantitative","title":null,"scale":{"domain":[-3.077,311],"nice":false,"zero":false}},"x2":{"datum":311},"y2":{"field":"price2"},"color":{"field":"zone","type":"nominal","scale":{"domain":["in","box","out"],"range":["#6691fb","#7594e8","#c7d7fb"]},"legend":null}}},
{"data":{"name":"sessionProfile","values":[{"hour":6,"mid":6.5,"end":6.8,"price":0.8317,"price2":0.825},{"hour":6,"mid":6.8,"end":8.3,"price":0.825,"price2":0.8237},{"hour":6,"mid":7,"end":9.5,"price":0.8237,"price2":0.8226},{"hour":6,"mid":7.2,"end":10.7,"price":0.8226,"price2":0.821},{"hour":6,"mid":7.2,"end":10.2,"price":0.821,"price2":0.8183},{"hour":6,"mid":7,"end":8.5,"price":0.8183,"price2":0.814},{"hour":6,"mid":6.5,"end":6.8,"price":0.814,"price2":0.81},{"hour":6,"mid":6.2,"end":6.3,"price":0.81,"price2":0.8046},{"hour":30,"mid":30.5,"end":31.3,"price":0.8472,"price2":0.8436},{"hour":30,"mid":31,"end":34.5,"price":0.8436,"price2":0.8411},{"hour":30,"mid":32,"end":36,"price":0.8411,"price2":0.8395},{"hour":30,"mid":31.5,"end":33,"price":0.8395,"price2":0.8373},{"hour":30,"mid":31.2,"end":32.7,"price":0.8373,"price2":0.8354},{"hour":30,"mid":31.5,"end":34,"price":0.8354,"price2":0.831},{"hour":30,"mid":30.8,"end":31.8,"price":0.831,"price2":0.8299},{"hour":30,"mid":30.3,"end":30.4,"price":0.8299,"price2":0.8207},{"hour":54,"mid":54.3,"end":54.6,"price":0.9337,"price2":0.93},{"hour":54,"mid":55.6,"end":56.6,"price":0.93,"price2":0.9248},{"hour":54,"mid":54.6,"end":54.9,"price":0.9248,"price2":0.918},{"hour":54,"mid":54.6,"end":54.8,"price":0.918,"price2":0.9058},{"hour":54,"mid":55.1,"end":55.4,"price":0.9058,"price2":0.8948},{"hour":54,"mid":54.2,"end":54.3,"price":0.8948,"price2":0.8878},{"hour":54,"mid":54.8,"end":55.3,"price":0.8878,"price2":0.883},{"hour":54,"mid":55.6,"end":56.4,"price":0.883,"price2":0.8775},{"hour":54,"mid":55.2,"end":56.2,"price":0.8775,"price2":0.8734},{"hour":54,"mid":55.5,"end":58.5,"price":0.8734,"price2":0.871},{"hour":54,"mid":55.5,"end":59.3,"price":0.871,"price2":0.8686},{"hour":54,"mid":54.8,"end":55.6,"price":0.8686,"price2":0.863},{"hour":54,"mid":54.5,"end":54.9,"price":0.863,"price2":0.8575},{"hour":78,"mid":78.1,"end":78.5,"price":0.9452,"price2":0.9385},{"hour":78,"mid":78.1,"end":78.9,"price":0.9385,"price2":0.9316},{"hour":78,"mid":78.8,"end":80.2,"price":0.9316,"price2":0.9271},{"hour":78,"mid":79.8,"end":81.2,"price":0.9271,"price2":0.9227},{"hour":78,"mid":79.3,"end":82.1,"price":0.9227,"price2":0.9205},{"hour":78,"mid":79.2,"end":82.4,"price":0.9205,"price2":0.9162},{"hour":78,"mid":78.3,"end":79.5,"price":0.9162,"price2":0.9133},{"hour":78,"mid":78.2,"end":78.8,"price":0.9133,"price2":0.9062},{"hour":102,"mid":103.2,"end":103.3,"price":0.941,"price2":0.936},{"hour":102,"mid":103.8,"end":104.1,"price":0.936,"price2":0.9343},{"hour":102,"mid":102.5,"end":103,"price":0.9343,"price2":0.9298},{"hour":102,"mid":102.5,"end":103.7,"price":0.9298,"price2":0.9263},{"hour":102,"mid":103.5,"end":105.3,"price":0.9263,"price2":0.922},{"hour":102,"mid":104,"end":109,"price":0.922,"price2":0.9201},{"hour":102,"mid":103.5,"end":107,"price":0.9201,"price2":0.9155},{"hour":102,"mid":103.5,"end":106.5,"price":0.9155,"price2":0.9107},{"hour":102,"mid":103,"end":103.5,"price":0.9107,"price2":0.904},{"hour":126,"mid":126.1,"end":126.9,"price":0.9382,"price2":0.9319},{"hour":126,"mid":127.2,"end":128.1,"price":0.9319,"price2":0.927},{"hour":126,"mid":127.5,"end":130,"price":0.927,"price2":0.9239},{"hour":126,"mid":128,"end":133.5,"price":0.9239,"price2":0.9222},{"hour":126,"mid":127.5,"end":130.5,"price":0.9222,"price2":0.9201},{"hour":126,"mid":128,"end":132.5,"price":0.9201,"price2":0.9184},{"hour":126,"mid":126.8,"end":127.8,"price":0.9184,"price2":0.9161},{"hour":126,"mid":126.3,"end":126.6,"price":0.9161,"price2":0.914},{"hour":126,"mid":126.1,"end":127.3,"price":0.914,"price2":0.908},{"hour":126,"mid":126.1,"end":127.1,"price":0.908,"price2":0.9},{"hour":150,"mid":151,"end":152.2,"price":0.9229,"price2":0.9188},{"hour":150,"mid":151.2,"end":152.7,"price":0.9188,"price2":0.916},{"hour":150,"mid":151.8,"end":153,"price":0.916,"price2":0.9141},{"hour":150,"mid":152.5,"end":155.3,"price":0.9141,"price2":0.9114},{"hour":150,"mid":151.8,"end":153,"price":0.9114,"price2":0.9087},{"hour":150,"mid":150.5,"end":151.5,"price":0.9087,"price2":0.907},{"hour":174,"mid":174.4,"end":175.1,"price":0.9448,"price2":0.9401},{"hour":174,"mid":176.2,"end":176.6,"price":0.9401,"price2":0.9374},{"hour":174,"mid":176.2,"end":177,"price":0.9374,"price2":0.9339},{"hour":174,"mid":175.2,"end":177,"price":0.9339,"price2":0.9298},{"hour":174,"mid":174.5,"end":177,"price":0.9298,"price2":0.9243},{"hour":174,"mid":174.3,"end":175.1,"price":0.9243,"price2":0.9212},{"hour":174,"mid":174.6,"end":176.1,"price":0.9212,"price2":0.9191},{"hour":174,"mid":175.5,"end":178.5,"price":0.9191,"price2":0.916},{"hour":174,"mid":175,"end":177.5,"price":0.916,"price2":0.9134},{"hour":174,"mid":174.5,"end":175.3,"price":0.9134,"price2":0.91},{"hour":174,"mid":174.2,"end":175,"price":0.91,"price2":0.906},{"hour":174,"mid":174.4,"end":175.9,"price":0.906,"price2":0.902},{"hour":174,"mid":175.2,"end":178.2,"price":0.902,"price2":0.9},{"hour":198,"mid":198.5,"end":200,"price":0.9205,"price2":0.9168},{"hour":198,"mid":198.8,"end":200.3,"price":0.9168,"price2":0.9114},{"hour":198,"mid":200.3,"end":201.3,"price":0.9114,"price2":0.908},{"hour":198,"mid":200.5,"end":204,"price":0.908,"price2":0.9053},{"hour":198,"mid":199.2,"end":202.2,"price":0.9053,"price2":0.9033},{"hour":198,"mid":198.5,"end":199,"price":0.9033,"price2":0.9},{"hour":198,"mid":198.2,"end":198.3,"price":0.9,"price2":0.8946},{"hour":222,"mid":223,"end":223.2,"price":0.8931,"price2":0.8906},{"hour":222,"mid":223.2,"end":224.2,"price":0.8906,"price2":0.8886},{"hour":222,"mid":223.8,"end":225.8,"price":0.8886,"price2":0.8849},{"hour":222,"mid":222.6,"end":223.4,"price":0.8849,"price2":0.8832},{"hour":222,"mid":222.8,"end":223,"price":0.8832,"price2":0.8787},{"hour":222,"mid":223.2,"end":224.8,"price":0.8787,"price2":0.8742},{"hour":222,"mid":222.5,"end":222.7,"price":0.8742,"price2":0.871}]},"mark":{"type":"rect","color":"#c9d8fb"},"encoding":{"x2":{"field":"mid"},"y2":{"field":"price2"}}},
{"data":{"name":"sessionProfile"},"mark":{"type":"rect","color":"#fbeec9"},"encoding":{"x":{"field":"mid","type":"quantitative","title":null,"scale":{"domain":[-3.077,311],"nice":false,"zero":false}},"x2":{"field":"end"},"y2":{"field":"price2"}}},
{"data":{"values":[{"hour":211.1,"hour2":311,"price":0.92},{"hour":211.1,"hour2":311,"price":0.9041},{"hour":-3.077,"hour2":311,"price":0.8041}]},"mark":{"type":"rule","color":"#787b86","strokeWidth":2.5},"encoding":{"x2":{"field":"hour2"}}},
{"data":{"values":[{"hour":-3.077,"hour2":311,"price":0.917}]},"mark":{"type":"rule","color":"#fb4438","strokeWidth":3},"encoding":{"x2":{"field":"hour2"}}},
{"data":{"values":[{"hour":-3.077,"hour2":6,"price":0.8591},{"hour":6,"hour2":30,"price":0.822},{"hour":30,"hour2":54,"price":0.841},{"hour":54,"hour2":78,"price":0.8702},{"hour":78,"hour2":102,"price":0.9211},{"hour":102,"hour2":126,"price":0.9206},{"hour":126,"hour2":150,"price":0.9234},{"hour":150,"hour2":174,"price":0.9128},{"hour":174,"hour2":198,"price":0.917},{"hour":198,"hour2":222,"price":0.911},{"hour":222,"hour2":235.2,"price":0.8869}]},"mark":{"type":"rule","color":"#fb4438","strokeWidth":3.5},"encoding":{"x2":{"field":"hour2"}}},
{"data":{"values":[{"hour":-3.077,"hour2":292.14,"price":0.8902}]},"mark":{"type":"rule","color":"#089981","strokeWidth":1,"strokeDash":[1,2]},"encoding":{"x2":{"field":"hour2"}}},
{"data":{"name":"candles"},"mark":{"type":"rule","color":"#5d606b","strokeWidth":1.5,"clip":true},"encoding":{"x":{"field":"t","type":"quantitative","title":null,"scale":{"domain":[-3.077,311],"nice":false,"zero":false}},"y":{"field":"h","type":"quantitative","title":null,"scale":{"type":"log","domain":[0.79074,0.97],"nice":false,"zero":false}},"y2":{"field":"l"}}},
{"data":{"name":"candles"},"mark":{"type":"bar","width":4,"stroke":"#2a2e39","strokeWidth":1,"clip":true},"encoding":{"x":{"field":"t","type":"quantitative","title":null,"scale":{"domain":[-3.077,311],"nice":false,"zero":false}},"y":{"field":"o","type":"quantitative","title":null,"scale":{"type":"log","domain":[0.79074,0.97],"nice":false,"zero":false}},"y2":{"field":"c"},"fill":{"condition":{"test":"datum.c>=datum.o","value":"#0e8c77"},"value":"#f5304a"}}},
{"data":{"name":"vwap"},"mark":{"type":"line","color":"#f9323f","strokeWidth":2.7,"clip":true},"encoding":{}},
{"data":{"name":"ema"},"mark":{"type":"line","color":"#2b66f6","strokeWidth":3,"interpolate":"monotone","clip":true},"encoding":{}},
{"data":{"values":[{"hour":235.2,"hour2":240.7,"price":0.8902,"price2":0.90485},{"hour":245,"hour2":259.5,"price":0.9047,"price2":0.8724}]},"mark":{"type":"rule","color":"#fb2a0e","strokeWidth":3.5},"encoding":{"x2":{"field":"hour2"},"y2":{"field":"price2"}}},
{"data":{"values":[{"hour":240.2,"price":0.90365}]},"mark":{"type":"point","shape":"triangle-up","filled":true,"opacity":1,"color":"#fb2a0e","size":320,"angle":23},"encoding":{}},
{"data":{"values":[{"hour":259.1,"price":0.8728}]},"mark":{"type":"point","shape":"triangle-up","filled":true,"opacity":1,"color":"#fb2a0e","size":320,"angle":152.5},"encoding":{}},
{"data":{"values":[{"hour":245.0,"price":0.9269,"label":"??"}]},"mark":{"type":"text","color":"#f23c32","fontSize":33,"fontWeight":"bold","align":"center","baseline":"middle"},"encoding":{"text":{"field":"label"}}},
{"data":{"values":[{"hour":311,"hour2":324.24,"price":0.92394,"price2":0.91948},{"hour":311,"hour2":324.24,"price":0.91934,"price2":0.91473},{"hour":311,"hour2":324.24,"price":0.90641,"price2":0.9019},{"hour":311,"hour2":324.24,"price":0.80609,"price2":0.80222}]},"mark":{"type":"rect","color":"#787b86","cornerRadius":2},"encoding":{"x2":{"field":"hour2"},"y2":{"field":"price2"}}},
{"data":{"values":[{"hour":292.14,"hour2":310.9,"price":0.89239,"price2":0.88794},{"hour":311.1,"hour2":324.24,"price":0.89239,"price2":0.88794}]},"mark":{"type":"rect","color":"#0e9b81","cornerRadius":2},"encoding":{"x2":{"field":"hour2"},"y2":{"field":"price2"}}},
{"data":{"values":[{"hour":313.36,"price":0.92176,"label":"0.9200"},{"hour":313.36,"price":0.91709,"label":"0.9170"},{"hour":313.36,"price":0.9041,"label":"0.9041"},{"hour":313.36,"price":0.8041,"label":"0.8041"}]},"mark":{"type":"text","color":"#e0e1e6","fontSize":16,"align":"left","baseline":"middle"},"encoding":{"text":{"field":"label"}}},
{"data":{"values":[{"hour":313.36,"price":0.8902,"label":"0.8902"}]},"mark":{"type":"text","color":"#ffffff","fontSize":17,"align":"left","baseline":"middle"},"encoding":{"text":{"field":"label"}}},
{"data":{"values":[{"hour":301.47,"price":0.8902,"label":"MATICUSDT"}]},"mark":{"type":"text","color":"#ffffff","fontSize":16,"align":"center","baseline":"middle"},"encoding":{"text":{"field":"label"}}},
{"data":{"values":[{"hour":313.36,"price":0.9659,"label":"USDT ˅"}]},"mark":{"type":"text","color":"#2a2e39","fontSize":15.5,"align":"left","baseline":"middle"},"encoding":{"text":{"field":"label"}}},
{"data":{"values":[{"hour":-1.36,"price":0.965,"label":"MATIC Network / TetherUS · 1h · BINANCE · TradingView"}]},"mark":{"type":"text","color":"#131722","fontSize":20.4,"align":"left","baseline":"middle"},"encoding":{"text":{"field":"label"}}},
{"data":{"values":[{"hour":103.16,"price":0.965,"label":"O0.8866  H0.8932  L0.8850  C0.8902  +0.0037 (+0.42%)"}]},"mark":{"type":"text","color":"#2a2e39","fontSize":18,"align":"left","baseline":"middle"},"encoding":{"text":{"field":"label"}}},
{"data":{"values":[{"hour":97.3,"price":0.96547}]},"mark":{"type":"point","shape":"circle","filled":true,"opacity":1,"color":"#d9f0ec","size":452},"encoding":{}},
{"data":{"values":[{"hour":97.3,"price":0.96547}]},"mark":{"type":"point","shape":"circle","filled":true,"opacity":1,"color":"#089981","size":80},"encoding":{}},
{"data":{"values":[{"hour":-1.46,"hour2":12.22,"price":0.96075,"price2":0.95413}]},"mark":{"type":"rect","fill":"#ffffff","stroke":"#f23645","strokeWidth":1.5,"cornerRadius":4},"encoding":{"x2":{"field":"hour2"},"y2":{"field":"price2"}}},
{"data":{"values":[{"hour":24.94,"hour2":38.52,"price":0.96075,"price2":0.95413}]},"mark":{"type":"rect","fill":"#ffffff","stroke":"#2962ff","strokeWidth":1.5,"cornerRadius":4},"encoding":{"x2":{"field":"hour2"},"y2":{"field":"price2"}}},
{"data":{"values":[{"hour":-1.19,"hour2":6.21,"price":0.95222,"price2":0.94652}]},"mark":{"type":"rect","fill":"#ffffff","stroke":"#d1d4dc","strokeWidth":1.5,"cornerRadius":4},"encoding":{"x2":{"field":"hour2"},"y2":{"field":"price2"}}},
{"data":{"values":[{"hour":5.38,"price":0.9573,"label":"0.8902"}]},"mark":{"type":"text","color":"#f23645","fontSize":17,"align":"center","baseline":"middle"},"encoding":{"text":{"field":"label"}}},
{"data":{"values":[{"hour":18.41,"price":0.9573,"label":"0.0001"}]},"mark":{"type":"text","color":"#2a2e39","fontSize":15,"align":"center","baseline":"middle"},"encoding":{"text":{"field":"label"}}},
{"data":{"values":[{"hour":31.73,"price":0.9573,"label":"0.8903"}]},"mark":{"type":"text","color":"#2962ff","fontSize":17,"align":"center","baseline":"middle"},"encoding":{"text":{"field":"label"}}},
{"data":{"values":[{"hour":2.5,"price":0.9494,"label":"˅ 4"}]},"mark":{"type":"text","color":"#2a2e39","fontSize":17,"align":"center","baseline":"middle"},"encoding":{"text":{"field":"label"}}},
{"data":{"values":[{"hour":-3.077,"hour2":327,"price":0.79074}]},"mark":{"type":"rule","color":"#e9edf1","strokeWidth":2},"encoding":{"x2":{"field":"hour2"}}}
]},
{"width":1827,"height":191,
"encoding":{"x":{"field":"hour","type":"quantitative","title":null,"scale":{"domain":[-3.077,311],"nice":false,"zero":false},"axis":{"orient":"bottom","values":[0,24,48,72,96,120,144,168,192,216,240,264,288],"grid":true,"labelFontSize":17,"labelPadding":11,"labelExpr":"datum.value==72?'Dec':datum.value<72?''+(28+datum.value/24):''+(1+(datum.value-72)/24)","labelFontWeight":{"condition":{"test":"datum.value==72","value":"bold"},"value":"normal"}}},"y":{"field":"value","type":"quantitative","title":null,"scale":{"domain":[-0.01238,0.02343],"nice":false,"zero":false},"axis":{"orient":"right","values":[0.02,0.01,0,-0.01],"format":".4f","grid":true,"labelPadding":14}}},
"layer":[
{"data":{"name":"hist"},"mark":{"type":"bar","width":4.2,"clip":true},"encoding":{"y":{"field":"value","type":"quantitative","title":null,"stack":null,"scale":{"domain":[-0.01238,0.02343],"nice":false,"zero":false}},"color":{"field":"tone","type":"nominal","scale":{"domain":["G","g","R","r"],"range":["#26a69a","#b2dfdb","#ff5252","#ffcdd2"]},"legend":null}}},
{"data":{"values":[{"hour":-3.077,"hour2":311,"value":0}]},"mark":{"type":"rule","color":"#c3c5cc","strokeWidth":1.5,"strokeDash":[5,5]},"encoding":{"x2":{"field":"hour2"}}},
{"data":{"name":"macd"},"mark":{"type":"line","color":"#2962ff","strokeWidth":1.5,"clip":true},"encoding":{}},
{"data":{"name":"signal"},"mark":{"type":"line","color":"#ff6d00","strokeWidth":1.5,"interpolate":"monotone","clip":true},"encoding":{}},
{"data":{"values":[{"hour":318.9,"value":-0.0161,"label":"☼"}]},"mark":{"type":"text","font":"DejaVu Sans","color":"#2a2e39","fontSize":24,"align":"center","baseline":"middle"},"encoding":{"text":{"field":"label"}}}
]}
]}
